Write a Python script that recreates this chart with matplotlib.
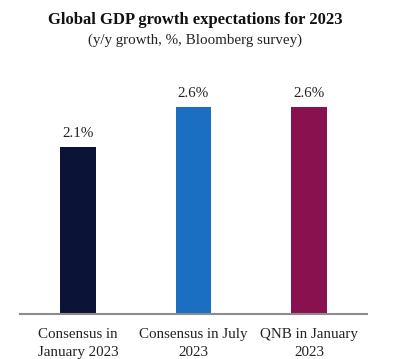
import matplotlib
matplotlib.use("Agg")
import matplotlib.pyplot as plt

categories = ["Consensus in\nJanuary 2023", "Consensus in July\n2023", "QNB in January\n2023"]
values = [2.1, 2.6, 2.6]
labels = ["2.1%", "2.6%", "2.6%"]
colors = ["#0b1437", "#1a6fc2", "#8a1150"]

plt.rcParams['font.family'] = ['Liberation Serif', 'DejaVu Serif']

fig = plt.figure(figsize=(4.1, 3.59), dpi=100)
ax = fig.add_axes([20/410, 45/359, 347/410, 239/359])

x = list(range(len(values)))
ax.bar(x, values, width=0.31, color=colors)
for xi, v, lab in zip(x, values, labels):
    ax.text(xi, v + 0.08, lab, ha='center', va='bottom', fontsize=10.8, color='#222222')

ax.set_xlim(-0.5, 2.5)
ax.set_ylim(0, 3.0)
ax.set_yticks([])
ax.set_xticks(x)
ax.set_xticklabels(categories, fontsize=10.8, color='#222222', linespacing=1.5)
ax.tick_params(axis='x', length=0, pad=10)
for s in ['top', 'right', 'left']:
    ax.spines[s].set_visible(False)
ax.spines['bottom'].set_color('#8c8c8c')
ax.spines['bottom'].set_linewidth(1.5)

fig.text(195/410, 1 - 20/359, "Global GDP growth expectations for 2023", ha='center', va='center',
         fontsize=12, fontweight='bold', color='#111111')
fig.text(195/410, 1 - 40/359, "(y/y growth, %, Bloomberg survey)", ha='center', va='center',
         fontsize=10.8, color='#222222')

fig.savefig("out.png", dpi=100)
